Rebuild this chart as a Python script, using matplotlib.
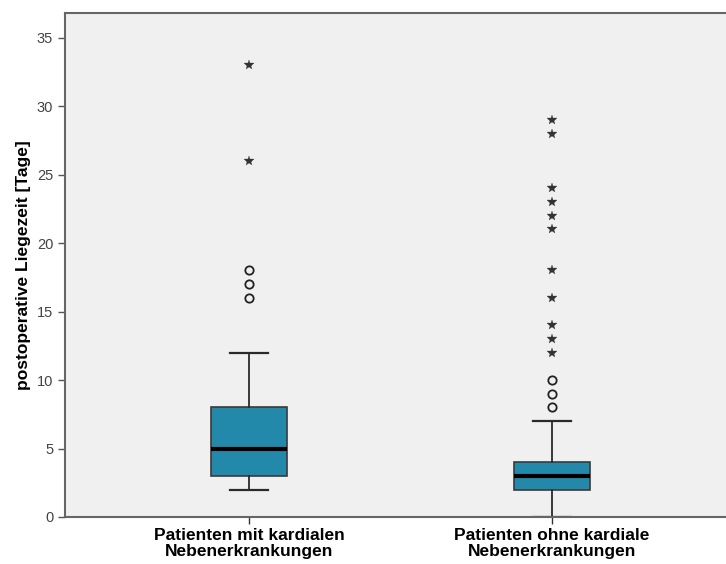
import matplotlib.pyplot as plt

plt.rcParams['font.family'] = ['Liberation Sans', 'DejaVu Sans']

gruppen = ["Patienten mit kardialen\nNebenerkrankungen",
           "Patienten ohne kardiale\nNebenerkrankungen"]
q1 = [3, 2]
median = [5, 3]
q3 = [8, 4]
whisker_lo = [2, 0]
whisker_hi = [12, 7]
ausreisser = [[16, 17, 18], [8, 9, 10]]          # Kreise
extremwerte = [[26, 33],
               [12, 13, 14, 16, 18, 21, 22, 23, 24, 28, 29]]  # Sterne

fig = plt.figure(figsize=(7.26, 5.64), dpi=100)
ax = fig.add_axes([65/726, 1 - 517/564, (736 - 65)/726, (517 - 13)/564])
ax.set_facecolor("#F0F0F0")

stats = []
for i in range(len(gruppen)):
    stats.append({"med": median[i], "q1": q1[i], "q3": q3[i],
                  "whislo": whisker_lo[i], "whishi": whisker_hi[i],
                  "fliers": ausreisser[i]})

pos = list(range(1, len(gruppen) + 1))
bp = ax.bxp(stats, positions=pos, widths=0.25, patch_artist=True,
            boxprops=dict(facecolor="#2389AB", edgecolor="#3A3A3A", linewidth=1.2),
            medianprops=dict(color="black", linewidth=3),
            whiskerprops=dict(color="#2A2A2A", linewidth=1.3),
            capprops=dict(color="#2A2A2A", linewidth=1.6),
            capwidths=0.125,
            flierprops=dict(marker="o", markerfacecolor="none", markeredgecolor="#222222",
                            markersize=6, markeredgewidth=1.3))
# Kappe bei 0 liegt auf der Achse
for c in bp["caps"]:
    c.set_zorder(1.5)

for p, ext in zip(pos, extremwerte):
    ax.plot([p] * len(ext), ext, linestyle="none", marker="*", color="#333333",
            markersize=7, markeredgewidth=0.2)

ax.set_xlim(0.393, 2.607)
ax.set_ylim(0, 36.8)
ax.set_yticks(range(0, 36, 5))
ax.set_xticks(pos)
ax.set_xticklabels(gruppen, fontsize=12.5, fontweight="bold", linespacing=1.1)
ax.tick_params(axis="y", labelsize=10.5, labelcolor="#444444", color="#555555", length=5, width=1)
ax.tick_params(axis="x", color="#333333", length=5, width=1, pad=3)
ax.set_ylabel("postoperative Liegezeit [Tage]", fontsize=12.5, fontweight="bold", labelpad=4)

for s in ax.spines.values():
    s.set_color("#666666")
    s.set_linewidth(1.5)
    s.set_zorder(3)
ax.spines["right"].set_visible(False)

fig.savefig("out.png", dpi=100)
